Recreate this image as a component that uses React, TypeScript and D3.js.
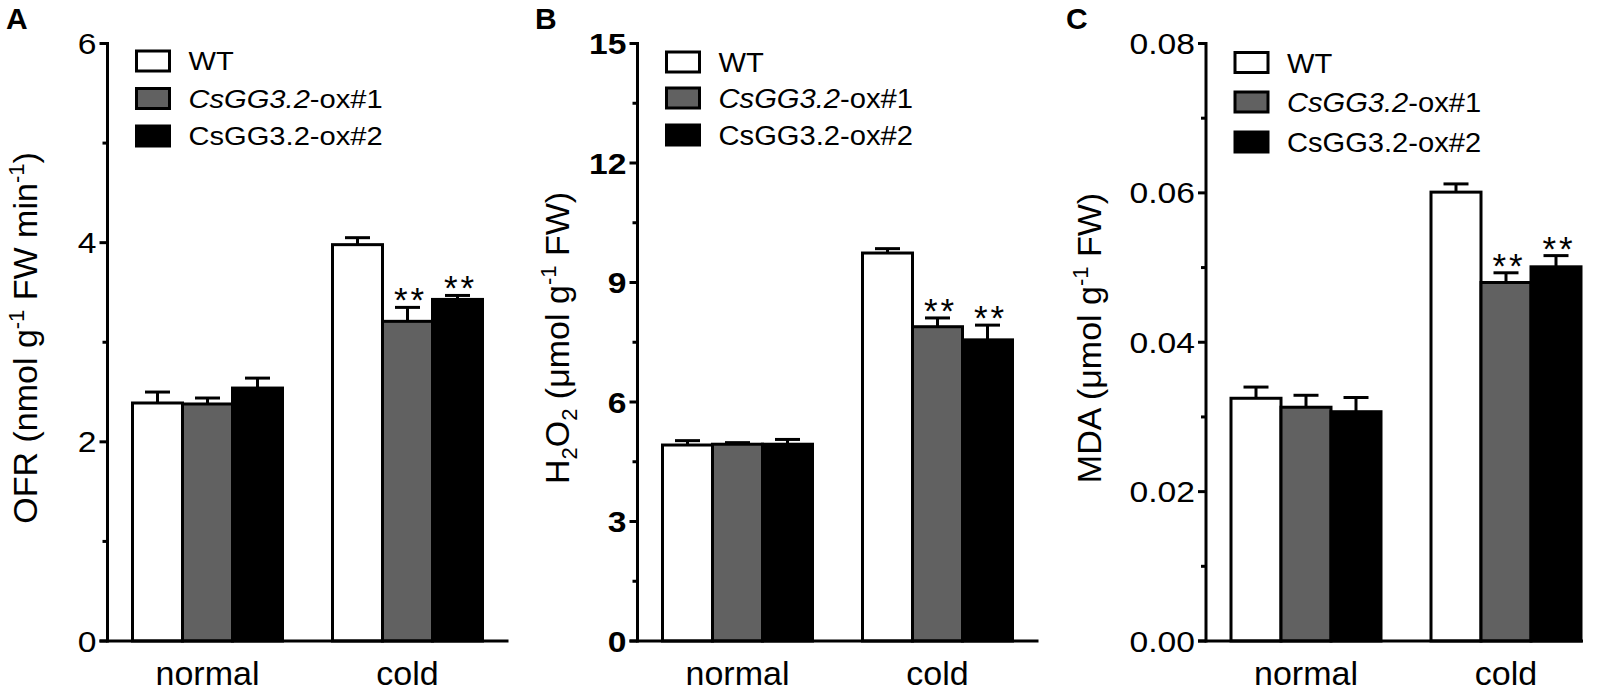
import * as d3 from 'd3';

// categories and series
const groups = ['normal', 'cold'];
const lines = ['WT', 'CsGG3.2-ox#1', 'CsGG3.2-ox#2'];
const fills = ['#ffffff', '#616161', '#000000'];
const coldMarks = ['', '**', '**'];

// A: OFR
const ofrNormal = [2.39, 2.38, 2.54];
const ofrNormalErr = [0.11, 0.06, 0.1];
const ofrCold = [3.98, 3.21, 3.43];
const ofrColdErr = [0.07, 0.14, 0.04];
const ofrTicks = [0, 2, 4, 6];
const ofrMinor = [1, 3, 5];
const ofrLabels = ['0', '2', '4', '6'];

// B: H2O2
const h2o2Normal = [4.92, 4.94, 4.94];
const h2o2NormalErr = [0.11, 0.04, 0.12];
const h2o2Cold = [9.74, 7.89, 7.56];
const h2o2ColdErr = [0.11, 0.22, 0.37];
const h2o2Ticks = [0, 3, 6, 9, 12, 15];
const h2o2Minor = [1.5, 4.5, 7.5, 10.5, 13.5];
const h2o2Labels = ['0', '3', '6', '9', '12', '15'];

// C: MDA
const mdaNormal = [0.0325, 0.0313, 0.0307];
const mdaNormalErr = [0.0015, 0.0016, 0.0019];
const mdaCold = [0.0601, 0.048, 0.0501];
const mdaColdErr = [0.0011, 0.0013, 0.0015];
const mdaTicks = [0, 0.02, 0.04, 0.06, 0.08];
const mdaMinor = [0.01, 0.03, 0.05, 0.07];
const mdaLabels = ['0.00', '0.02', '0.04', '0.06', '0.08'];

type Seg = { t: string; sup?: boolean; sub?: boolean };

const ofrTitle: Seg[] = [
  { t: 'OFR (nmol  g' }, { t: '-1', sup: true }, { t: ' FW min' }, { t: '-1', sup: true }, { t: ')' },
];
const h2o2Title: Seg[] = [
  { t: 'H' }, { t: '2', sub: true }, { t: 'O' }, { t: '2', sub: true }, { t: ' (\u03bcmol  g' }, { t: '-1', sup: true }, { t: ' FW)' },
];
const mdaTitle: Seg[] = [
  { t: 'MDA (\u03bcmol  g' }, { t: '-1', sup: true }, { t: ' FW)' },
];

const FONT = '"Liberation Sans", Arial, sans-serif';
const Y_TOP = 43.5;
const Y_BOT = 641;
const SW = 3;

interface Panel {
  letter: string;
  letterX: number;
  axisX: number;
  axisLen: number;
  normal: number[];
  normalErr: number[];
  cold: number[];
  coldErr: number[];
  ticks: number[];
  minor: number[];
  labels: string[];
  bold: boolean;
  title: Seg[];
  titleX: number;
  legendRows: number[];
  legendSize: number;
  legendSx: number;
}

const panels: Panel[] = [
  {
    letter: 'A', letterX: 6, axisX: 107.5, axisLen: 401,
    normal: ofrNormal, normalErr: ofrNormalErr, cold: ofrCold, coldErr: ofrColdErr,
    ticks: ofrTicks, minor: ofrMinor, labels: ofrLabels, bold: false,
    title: ofrTitle, titleX: 37, legendRows: [61, 98.5, 136], legendSize: 26, legendSx: 1.12,
  },
  {
    letter: 'B', letterX: 535, axisX: 637.5, axisLen: 401,
    normal: h2o2Normal, normalErr: h2o2NormalErr, cold: h2o2Cold, coldErr: h2o2ColdErr,
    ticks: h2o2Ticks, minor: h2o2Minor, labels: h2o2Labels, bold: true,
    title: h2o2Title, titleX: 569, legendRows: [62, 98, 135], legendSize: 27, legendSx: 1.08,
  },
  {
    letter: 'C', letterX: 1066, axisX: 1206, axisLen: 377,
    normal: mdaNormal, normalErr: mdaNormalErr, cold: mdaCold, coldErr: mdaColdErr,
    ticks: mdaTicks, minor: mdaMinor, labels: mdaLabels, bold: false,
    title: mdaTitle, titleX: 1101, legendRows: [62.5, 102, 142], legendSize: 28, legendSx: 1.04,
  },
];

function Title({ segs, x, y }: { segs: Seg[]; x: number; y: number }) {
  let shift = 0;
  return (
    <text
      transform={`translate(${x},${y}) rotate(-90)`}
      textAnchor="middle"
      fontSize={34}
      fontFamily={FONT}
    >
      {segs.map((s, i) => {
        const target = s.sup ? -13 : s.sub ? 8 : 0;
        const dy = target - shift;
        shift = target;
        return (
          <tspan key={i} dy={dy} fontSize={s.sup || s.sub ? 22 : 34}>
            {s.t}
          </tspan>
        );
      })}
    </text>
  );
}

function BarPanel({ p }: { p: Panel }) {
  const yMax = p.ticks[p.ticks.length - 1];
  const y = d3.scaleLinear().domain([0, yMax]).range([Y_BOT, Y_TOP]);
  const x0 = d3.scaleBand().domain(groups).range([p.axisX, p.axisX + 400]).paddingInner(0.25).paddingOuter(0.125);
  const x1 = d3.scaleBand().domain(lines).range([0, x0.bandwidth()]);
  const bw = x1.bandwidth();

  const rows = groups.map((g, gi) => ({
    g,
    vals: gi === 0 ? p.normal : p.cold,
    errs: gi === 0 ? p.normalErr : p.coldErr,
    marks: gi === 0 ? ['', '', ''] : coldMarks,
  }));

  return (
    <g>
      <text x={p.letterX} y={29} fontSize={30} fontWeight="bold" fontFamily={FONT}>
        {p.letter}
      </text>

      {/* bars, error bars, stars */}
      {rows.map((r) =>
        lines.map((l, i) => {
          const bx = (x0(r.g) as number) + (x1(l) as number);
          const cx = bx + bw / 2;
          const top = y(r.vals[i]);
          const et = y(r.vals[i] + r.errs[i]);
          return (
            <g key={r.g + l}>
              <line x1={cx} x2={cx} y1={top} y2={et} stroke="#000" strokeWidth={SW} />
              <line x1={cx - bw / 4} x2={cx + bw / 4} y1={et} y2={et} stroke="#000" strokeWidth={SW} />
              <rect x={bx} y={top} width={bw} height={Y_BOT - top} fill={fills[i]} stroke="#000" strokeWidth={SW} />
              {r.marks[i] && (
                <text
                  x={cx + 3}
                  y={et + 5}
                  textAnchor="middle"
                  fontSize={35}
                  letterSpacing={3}
                  fontFamily={FONT}
                >
                  {r.marks[i]}
                </text>
              )}
            </g>
          );
        })
      )}

      {/* y axis */}
      <line x1={p.axisX} x2={p.axisX} y1={Y_BOT + SW / 2} y2={y(yMax) - SW / 2} stroke="#000" strokeWidth={SW} />
      {p.ticks.map((t, i) => (
        <g key={'t' + t}>
          <line x1={p.axisX - 8} x2={p.axisX} y1={y(t)} y2={y(t)} stroke="#000" strokeWidth={SW} />
          <text
            transform={`translate(${p.axisX - 11},${y(t)}) scale(1.14,1)`}
            dy="0.36em"
            textAnchor="end"
            fontSize={29.5}
            fontWeight={p.bold ? 'bold' : 'normal'}
            fontFamily={FONT}
          >
            {p.labels[i]}
          </text>
        </g>
      ))}
      {p.minor.map((t) => (
        <line key={'m' + t} x1={p.axisX - 5} x2={p.axisX} y1={y(t)} y2={y(t)} stroke="#000" strokeWidth={SW} />
      ))}

      {/* x axis */}
      <line x1={p.axisX - 8} x2={p.axisX + p.axisLen} y1={Y_BOT} y2={Y_BOT} stroke="#000" strokeWidth={SW} />
      {groups.map((g) => (
        <text
          key={g}
          x={(x0(g) as number) + x0.bandwidth() / 2}
          y={685}
          textAnchor="middle"
          fontSize={34}
          fontFamily={FONT}
        >
          {g}
        </text>
      ))}

      <Title segs={p.title} x={p.titleX} y={338} />

      {/* legend */}
      {lines.map((l, i) => {
        const ry = p.legendRows[i];
        return (
          <g key={'lg' + l}>
            <rect x={p.axisX + 29} y={ry - 10} width={33} height={20} fill={fills[i]} stroke="#000" strokeWidth={SW} />
            <text
              transform={`translate(${p.axisX + 81},${ry}) scale(${p.legendSx},1)`}
              dy="0.36em"
              fontSize={p.legendSize}
              fontFamily={FONT}
            >
              {i === 1 ? (
                <>
                  <tspan fontStyle="italic">CsGG3.2</tspan>-ox#1
                </>
              ) : (
                l
              )}
            </text>
          </g>
        );
      })}
    </g>
  );
}

export default function App() {
  return (
    <svg
      width={1616}
      height={691}
      style={{ position: 'absolute', left: 0, top: 0, background: '#fff' }}
    >
      <rect width={1616} height={691} fill="#fff" />
      {panels.map((p) => (
        <BarPanel key={p.letter} p={p} />
      ))}
    </svg>
  );
}
